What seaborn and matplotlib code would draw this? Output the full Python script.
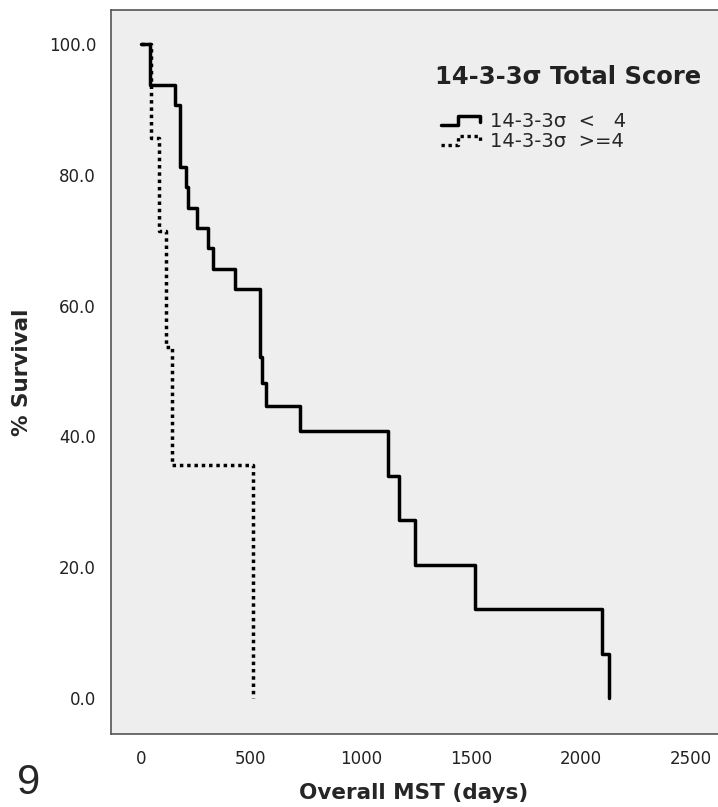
import numpy as np
import pandas as pd
import matplotlib
matplotlib.use('Agg')
import matplotlib.pyplot as plt
import seaborn as sns
from matplotlib.lines import Line2D
from matplotlib.legend_handler import HandlerBase

# Kaplan-Meier steps
low_days = [0, 39, 155, 177, 203, 215, 253, 306, 329, 428, 541, 550, 569, 721, 1125, 1174, 1247, 1519, 2097, 2127]
low_surv = [100.0, 93.75, 90.6, 81.2, 78.1, 75.0, 71.9, 68.75, 65.6, 62.5, 52.1, 48.1, 44.6, 40.8, 34.0, 27.2, 20.4, 13.6, 6.8, 0.0]
high_days = [0, 44, 83, 112, 140, 509]
high_surv = [100.0, 85.7, 71.4, 53.6, 35.7, 0.0]

group_labels = ['14-3-3σ  <   4', '14-3-3σ  >=4']
y_ticks = [0, 20, 40, 60, 80, 100]
x_ticks = [0, 500, 1000, 1500, 2000, 2500]

df = pd.concat([
    pd.DataFrame({'days': low_days, 'surv': low_surv, 'group': group_labels[0]}),
    pd.DataFrame({'days': high_days, 'surv': high_surv, 'group': group_labels[1]}),
], ignore_index=True)


class StepHandler(HandlerBase):
    # little step icon like the SPSS legend
    def create_artists(self, legend, orig_handle, xdescent, ydescent, width, height, fontsize, trans):
        fx = np.array([0.0, 0.42, 0.42, 0.97, 0.97])
        fy = np.array([0.1, 0.1, 0.85, 0.85, 0.35])
        ln = Line2D(fx * width - xdescent, fy * height - ydescent)
        ln.update_from(orig_handle)
        ln.set_dash_capstyle('butt')
        ln.set_transform(trans)
        return [ln]


sns.set_style('white')
plt.rcParams['font.family'] = ['DejaVu Sans']

fig = plt.figure(figsize=(7.18, 8.07), dpi=100)
ax = fig.add_axes([110.7 / 718, 73 / 807, 611.3 / 718, 724 / 807])
ax.set_facecolor('#eeeeee')

sns.lineplot(data=df, x='days', y='surv', style='group', style_order=group_labels[::-1],
             dashes={group_labels[0]: '', group_labels[1]: (1, 1.1)},
             color='black', lw=2.5, drawstyle='steps-post', estimator=None,
             legend=False, ax=ax)

ax.set_xlim(-138, 2642)
ax.set_ylim(-5.5, 105.2)
ax.set_xticks(x_ticks)
ax.set_yticks(y_ticks)
ax.set_yticklabels([f'{v:.1f}' for v in y_ticks])
ax.tick_params(axis='both', direction='out', length=7.5, width=1.1, color='#333333',
               labelsize=12, labelcolor='#222222', pad=3)
ax.tick_params(axis='x', pad=4)

for s in ax.spines.values():
    s.set_color('#555555')
    s.set_linewidth(1.2)

ax.set_xlabel('Overall MST (days)', fontsize=15.5, fontweight='bold', va='center')
ax.set_ylabel('% Survival', fontsize=15.5, fontweight='bold', va='center')
ax.xaxis.set_label_coords(0.496, -0.0815)
ax.yaxis.set_label_coords(-0.145, 0.5)

handles = [Line2D([], [], color='black', lw=2.5),
           Line2D([], [], color='black', lw=2.4, dashes=(1, 1.1))]
leg = ax.legend(handles, group_labels, handler_map={Line2D: StepHandler()},
                frameon=False, loc='upper left',
                bbox_to_anchor=(431 / 718, 1 - 102 / 807), bbox_transform=fig.transFigure,
                fontsize=14, handlelength=2.06, handleheight=0.6, handletextpad=0.46,
                labelspacing=0.07, borderpad=0)
fig.text(435 / 718, 1 - 77 / 807, '14-3-3σ Total Score', fontsize=17.5, fontweight='bold',
         color='#222222', ha='left', va='center')

fig.text(17 / 718, 1 - 783 / 807, '9', fontsize=30, family=['Liberation Sans', 'DejaVu Sans'],
         ha='left', va='center')

fig.savefig('out.png', dpi=100)
